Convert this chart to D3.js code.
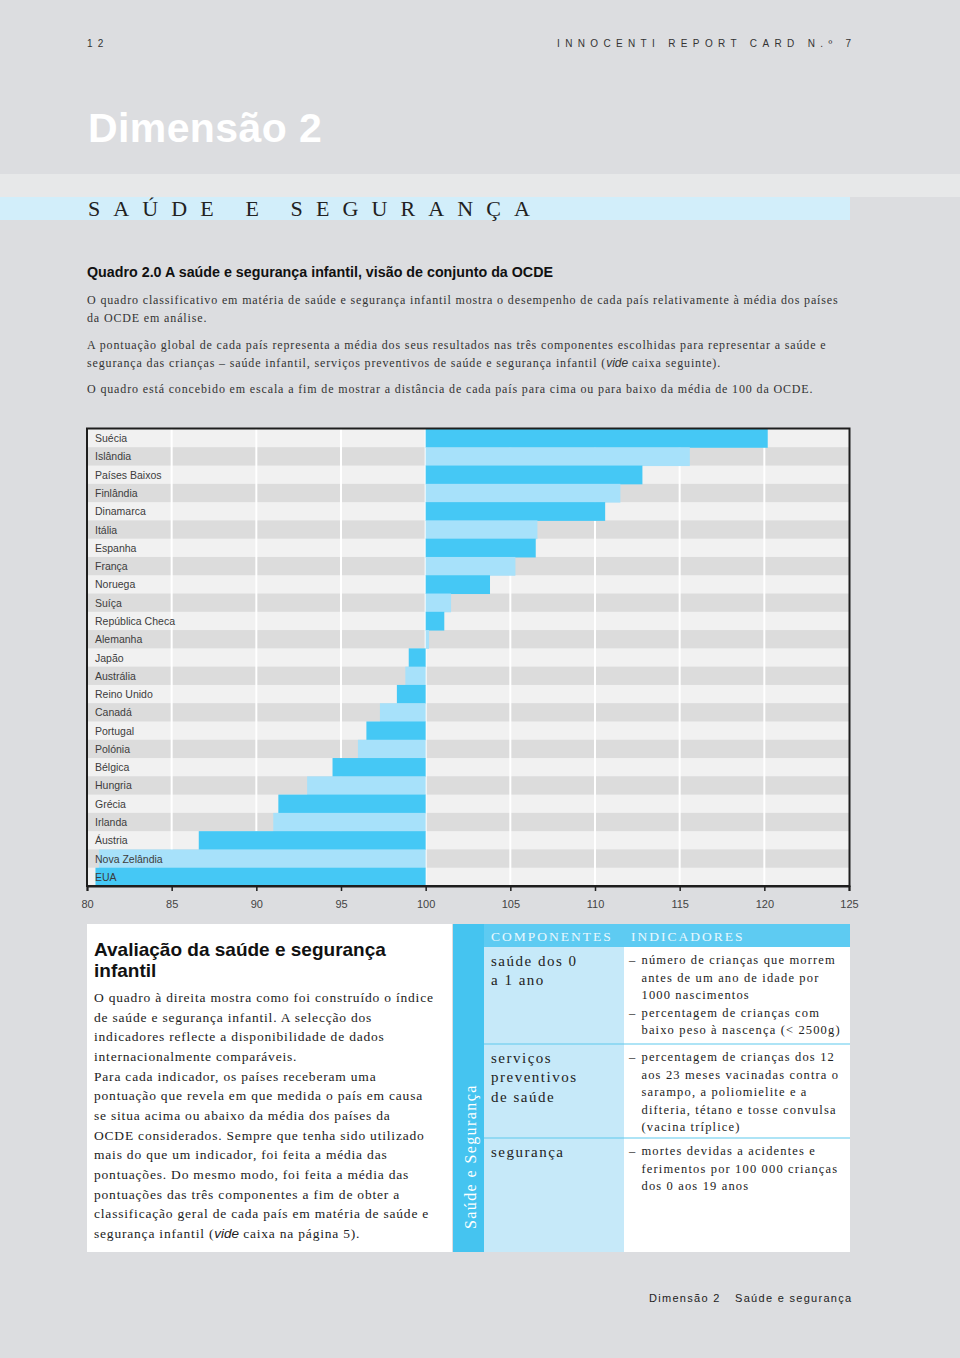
<!DOCTYPE html>
<html><head><meta charset="utf-8">
<script src="https://cdn.jsdelivr.net/npm/d3@7"></script>
<style>body{margin:0;background:#dcdde0}svg{display:block}text{white-space:pre}</style>
</head><body><svg id="c" width="960" height="1358"></svg>
<script>
// ---------- data ----------
const countries = ["Suécia","Islândia","Países Baixos","Finlândia","Dinamarca","Itália","Espanha","França","Noruega","Suíça","República Checa","Alemanha","Japão","Austrália","Reino Unido","Canadá","Portugal","Polónia","Bélgica","Hungria","Grécia","Irlanda","Áustria","Nova Zelândia","EUA"];
const scores = [120.2,115.6,112.8,111.5,110.6,106.6,106.5,105.3,103.8,101.5,101.1,100.2,99.0,98.8,98.3,97.3,96.5,96.0,94.5,93.0,91.3,91.0,86.6,80.7,80.5];
const tickLabels = [80,85,90,95,100,105,110,115,120,125];
const gridValues = [85,90,95,100,105,110,115,120];
const oecdAverage = 100;

const introLines = [
  "O quadro classificativo em matéria de saúde e segurança infantil mostra o desempenho de cada país relativamente à média dos países",
  "da OCDE em análise.",
  "A pontuação global de cada país representa a média dos seus resultados nas três componentes escolhidas para representar a saúde e",
  "segurança das crianças – saúde infantil, serviços preventivos de saúde e segurança infantil (*vide* caixa seguinte).",
  "O quadro está concebido em escala a fim de mostrar a distância de cada país para cima ou para baixo da média de 100 da OCDE."
];
const boxLines = [
  "O quadro à direita mostra como foi construído o índice",
  "de saúde e segurança infantil. A selecção dos",
  "indicadores reflecte a disponibilidade de dados",
  "internacionalmente comparáveis.",
  "Para cada indicador, os países receberam uma",
  "pontuação que revela em que medida o país em causa",
  "se situa acima ou abaixo da média dos países da",
  "OCDE considerados. Sempre que tenha sido utilizado",
  "mais do que um indicador, foi feita a média das",
  "pontuações. Do mesmo modo, foi feita a média das",
  "pontuações das três componentes a fim de obter a",
  "classificação geral de cada país em matéria de saúde e",
  "segurança infantil (*vide* caixa na página 5)."
];
const components = [
  {name:["saúde dos 0","a 1 ano"], indicators:[["número de crianças que morrem","antes de um ano de idade por","1000 nascimentos"],["percentagem de crianças com","baixo peso à nascença (< 2500g)"]]},
  {name:["serviços","preventivos","de saúde"], indicators:[["percentagem de crianças dos 12","aos 23 meses vacinadas contra o","sarampo, a poliomielite e a","difteria, tétano e tosse convulsa","(vacina tríplice)"]]},
  {name:["segurança"], indicators:[["mortes devidas a acidentes e","ferimentos por 100 000 crianças","dos 0 aos 19 anos"]]}
];

// ---------- drawing ----------
const svg = d3.select("#c");
const SANS = "Liberation Sans, Arial, Helvetica, sans-serif";
const SERIF = "Liberation Serif, Times New Roman, serif";

svg.append("rect").attr("width",960).attr("height",1358).attr("fill","#dcdde0");

function richText(g, x, y, str){
  const t = g.append("text").attr("x",x).attr("y",y);
  str.split(/(\*[^*]+\*)/).forEach(p=>{
    if(!p) return;
    if(p[0]==="*") t.append("tspan").attr("font-family",SANS).attr("font-style","italic").attr("letter-spacing",0).text(p.slice(1,-1));
    else t.append("tspan").text(p);
  });
  return t;
}

// header
svg.append("text").attr("x",87).attr("y",47).attr("font-family",SANS).attr("font-size",10)
  .attr("letter-spacing",5.3).attr("fill","#333").text("12");
svg.append("text").attr("x",557).attr("y",47).attr("font-family",SANS).attr("font-size",10)
  .attr("letter-spacing",5.35).attr("fill","#333").text("INNOCENTI REPORT CARD N.º 7");
svg.append("text").attr("x",88).attr("y",142).attr("font-family",SANS).attr("font-weight","bold")
  .attr("font-size",41).attr("letter-spacing",0.4).attr("fill","#ffffff").text("Dimensão 2");
svg.append("rect").attr("x",0).attr("y",174).attr("width",960).attr("height",23).attr("fill","#e7e8e9");
svg.append("rect").attr("x",0).attr("y",197).attr("width",850).attr("height",23).attr("fill","#d2eefa");
svg.append("text").attr("x",88).attr("y",216).attr("font-family",SERIF).attr("font-size",22)
  .attr("letter-spacing",13.1).attr("fill","#222").text("SAÚDE E SEGURANÇA");

// chart title + intro
svg.append("text").attr("x",87).attr("y",277).attr("font-family","Liberation Sans Narrow, "+SANS)
  .attr("font-weight","bold").attr("font-size",14.5).attr("textLength",466).attr("lengthAdjust","spacingAndGlyphs")
  .attr("fill","#111").text("Quadro 2.0 A saúde e segurança infantil, visão de conjunto da OCDE");
const intro = svg.append("g").attr("font-family",SERIF).attr("font-size",12).attr("letter-spacing",0.86).attr("fill","#333");
const introY = [304,322,349,367,393];
introLines.forEach((l,i)=>richText(intro,87,introY[i],l));

// chart
const x = d3.scaleLinear().domain([80,125]).range([87,849]);
const y = d3.scaleBand().domain(countries).range([429,886]).padding(0);
const chart = svg.append("g");
chart.selectAll("rect.row").data(countries).join("rect").attr("class","row")
  .attr("x",x(80)).attr("width",x(125)-x(80)).attr("y",d=>y(d)).attr("height",y.bandwidth()+0.5)
  .attr("fill",(d,i)=>i%2? "#dcdcdc":"#f1f1f1");
chart.selectAll("line.grid").data(gridValues).join("line").attr("class","grid")
  .attr("x1",d=>x(d)).attr("x2",d=>x(d)).attr("y1",429).attr("y2",886)
  .attr("stroke","#ffffff").attr("stroke-width",2);
chart.selectAll("rect.bar").data(scores).join("rect").attr("class","bar")
  .attr("x",d=>x(Math.min(d,oecdAverage))).attr("width",d=>Math.abs(x(d)-x(oecdAverage)))
  .attr("y",(d,i)=>y(countries[i])).attr("height",y.bandwidth()+0.5)
  .attr("fill",(d,i)=>i%2? "#a7e1fa":"#45c8f5");
chart.selectAll("text.lab").data(countries).join("text").attr("class","lab")
  .attr("x",95).attr("y",d=>y(d)+y.bandwidth()/2+4).attr("font-family",SANS).attr("font-size",10.5)
  .attr("fill","#3c3c3c").text(d=>d);
chart.append("rect").attr("x",87).attr("y",428.5).attr("width",762.5).attr("height",457.5)
  .attr("fill","none").attr("stroke","#1e1e1e").attr("stroke-width",2);
const axis = chart.append("g").attr("transform","translate(0,886)")
  .call(d3.axisBottom(x).tickValues(tickLabels).tickSize(5).tickPadding(9).tickFormat(d3.format("d")));
axis.select(".domain").attr("stroke","#1e1e1e").attr("stroke-width",2);
axis.selectAll(".tick line").attr("stroke","#1e1e1e").attr("stroke-width",1.5);
axis.selectAll(".tick text").attr("font-family",SANS).attr("font-size",11).attr("fill","#444");

// left box
svg.append("rect").attr("x",87).attr("y",924).attr("width",365).attr("height",328).attr("fill","#ffffff");
const lt = svg.append("g").attr("font-family",SANS).attr("font-weight","bold").attr("font-size",19).attr("fill","#111");
lt.append("text").attr("x",94).attr("y",956).text("Avaliação da saúde e segurança");
lt.append("text").attr("x",94).attr("y",977).text("infantil");
const lb = svg.append("g").attr("font-family",SERIF).attr("font-size",13.5).attr("letter-spacing",0.8).attr("fill","#222");
boxLines.forEach((l,i)=>richText(lb,94,1002+i*19.65,l));

// right box
svg.append("rect").attr("x",453).attr("y",924).attr("width",31).attr("height",328).attr("fill","#45c4f0");
svg.append("rect").attr("x",484).attr("y",924).attr("width",140).attr("height",328).attr("fill","#c6e9f9");
svg.append("rect").attr("x",624).attr("y",947).attr("width",226).attr("height",305).attr("fill","#ffffff");
svg.append("rect").attr("x",484).attr("y",924).attr("width",366).attr("height",23).attr("fill","#5ecbf2");
svg.append("text").attr("transform","translate(476,1229) rotate(-90)").attr("font-family",SERIF)
  .attr("font-size",16).attr("letter-spacing",1.4).attr("fill","#ffffff").text("Saúde e Segurança");
const hdr = svg.append("g").attr("font-family",SERIF).attr("font-size",13.5).attr("letter-spacing",2).attr("fill","#e9f8fe");
hdr.append("text").attr("x",491).attr("y",941).text("COMPONENTES");
hdr.append("text").attr("x",631).attr("y",941).text("INDICADORES");
[1044,1138].forEach(v=>svg.append("line").attr("x1",484).attr("x2",850).attr("y1",v).attr("y2",v)
  .attr("stroke","#5fc9ee").attr("stroke-width",1.2));
const compY = [966,1063,1157];
const indY = [964,1061,1155];
const cg = svg.append("g").attr("font-family",SERIF).attr("font-size",15).attr("letter-spacing",1.5).attr("fill","#222");
const ig = svg.append("g").attr("font-family",SERIF).attr("font-size",12.5).attr("letter-spacing",1.15).attr("fill","#222");
components.forEach((c,ci)=>{
  c.name.forEach((n,k)=>cg.append("text").attr("x",491).attr("y",compY[ci]+k*19.3).text(n));
  let line = 0;
  c.indicators.forEach(ind=>{
    ind.forEach((s,k)=>{
      const yy = indY[ci]+line*17.6;
      if(k===0) ig.append("text").attr("x",629).attr("y",yy).attr("letter-spacing",0).text("–");
      ig.append("text").attr("x",641.5).attr("y",yy).text(s);
      line++;
    });
  });
});

// footer
const ft = svg.append("g").attr("font-family",SANS).attr("font-size",11).attr("letter-spacing",1.3).attr("fill","#222");
ft.append("text").attr("x",649).attr("y",1302).text("Dimensão 2");
ft.append("text").attr("x",735).attr("y",1302).text("Saúde e segurança");
</script></body></html>
